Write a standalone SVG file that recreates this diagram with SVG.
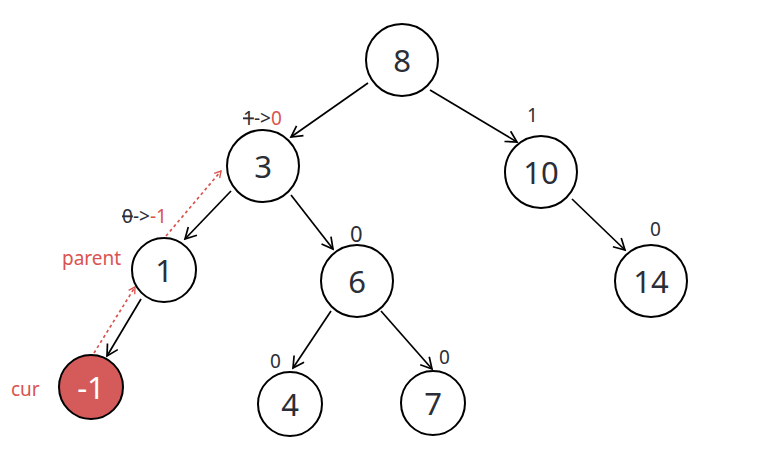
<svg xmlns="http://www.w3.org/2000/svg" width="768" height="463" viewBox="0 0 768 463">
<style>
.n circle{fill:#fff;stroke:#000;stroke-width:2}
.n text{font-family:"Noto Sans","Open Sans",sans-serif;font-size:31px;fill:#2b2e36;text-anchor:middle;dominant-baseline:central}
.e{stroke:#000;stroke-width:1.7;fill:none;marker-end:url(#a)}
.d{stroke:#d9534f;stroke-width:1.7;fill:none;stroke-dasharray:3 3;marker-end:url(#r)}
.l{font-family:"Noto Sans","Open Sans",sans-serif;font-size:19px;fill:#2b2e36}
.red{fill:#d9534f}
</style>
<defs>
<marker id="a" viewBox="0 0 14 14" refX="12" refY="7" markerWidth="14" markerHeight="14" markerUnits="userSpaceOnUse" orient="auto"><path d="M1,1 L12,7 L1,13" fill="none" stroke="#000" stroke-width="1.7"/></marker>
<marker id="r" viewBox="0 0 10 10" refX="8" refY="5" markerWidth="9" markerHeight="9" markerUnits="userSpaceOnUse" orient="auto"><path d="M1,1 L8,5 L1,9" fill="none" stroke="#d9534f" stroke-width="1.5"/></marker>
</defs>
<g id="edges">
<line class="e" x1="368" y1="83" x2="291" y2="137"/>
<line class="e" x1="430" y1="90" x2="517" y2="142"/>
<line class="e" x1="231" y1="191" x2="185" y2="239"/>
<line class="e" x1="291" y1="195" x2="333" y2="249"/>
<line class="e" x1="572" y1="199" x2="625" y2="250"/>
<line class="e" x1="141" y1="299" x2="107" y2="356"/>
<line class="e" x1="331" y1="311" x2="293" y2="368"/>
<line class="e" x1="381" y1="311" x2="432" y2="369"/>
<line class="d" x1="94" y1="353" x2="135" y2="287"/>
<line class="d" x1="166" y1="236" x2="221" y2="171"/>
</g>
<g id="n8" class="n"><circle cx="402" cy="60" r="36"/><text x="402" y="60">8</text></g>
<g id="n3" class="n"><circle cx="263" cy="166" r="36"/><text x="263" y="166">3</text></g>
<g id="n10" class="n"><circle cx="541" cy="172" r="36"/><text x="541" y="172">10</text></g>
<g id="n1" class="n"><circle cx="164" cy="270" r="32"/><text x="164" y="270">1</text></g>
<g id="n6" class="n"><circle cx="357" cy="281" r="36"/><text x="357" y="281">6</text></g>
<g id="n14" class="n"><circle cx="651" cy="281" r="36"/><text x="651" y="281">14</text></g>
<g id="nm1" class="n"><circle cx="91" cy="387" r="32" style="fill:#d45b5a"/><text x="91" y="387" style="fill:#fff">-1</text></g>
<g id="n4" class="n"><circle cx="290" cy="404" r="32"/><text x="290" y="404">4</text></g>
<g id="n7" class="n"><circle cx="433" cy="403" r="32"/><text x="433" y="403">7</text></g>
<g id="labels">
<text class="l" x="243" y="125"><tspan text-decoration="line-through">1</tspan>-&gt;<tspan class="red">0</tspan></text>
<text class="l" x="527" y="122">1</text>
<text class="l" x="350" y="242" style="font-size:22px">0</text>
<text class="l" x="650" y="236">0</text>
<text class="l" x="122" y="223"><tspan text-decoration="line-through">0</tspan>-&gt;<tspan class="red">-1</tspan></text>
<text class="l red" x="62" y="265">parent</text>
<text class="l red" x="11" y="396">cur</text>
<text class="l" x="270" y="368">0</text>
<text class="l" x="439" y="364">0</text>
</g>
</svg>
